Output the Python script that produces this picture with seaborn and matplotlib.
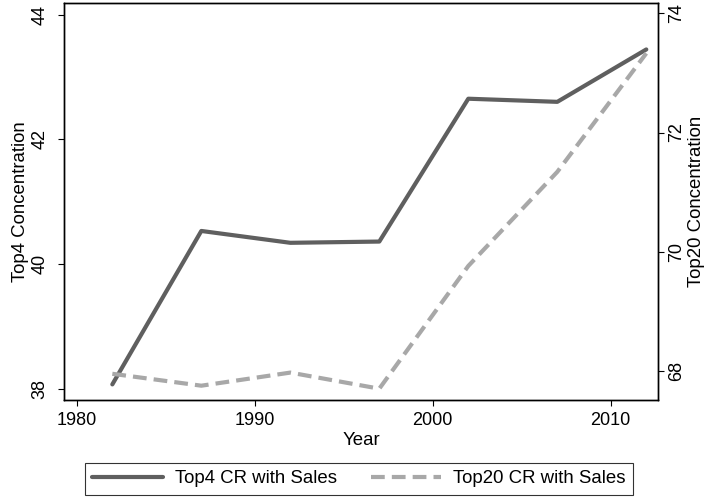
import matplotlib
matplotlib.use("Agg")
import matplotlib.pyplot as plt
import seaborn as sns
import pandas as pd
from matplotlib.lines import Line2D

# data
years = [1982, 1987, 1992, 1997, 2002, 2007, 2012]
top4_cr = [38.07, 40.53, 40.34, 40.36, 42.65, 42.60, 43.44]
top20_cr = [67.95, 67.75, 67.97, 67.70, 69.76, 71.34, 73.33]

x_ticks = [1980, 1990, 2000, 2010]
left_ticks = [38, 40, 42, 44]
right_ticks = [68, 70, 72, 74]

df = pd.DataFrame({"year": years, "top4": top4_cr, "top20": top20_cr})

sns.set_style("white")
plt.rcParams["font.family"] = ["Liberation Sans", "DejaVu Sans"]
plt.rcParams["text.color"] = "black"
plt.rcParams["axes.labelcolor"] = "black"
plt.rcParams["xtick.color"] = "black"
plt.rcParams["ytick.color"] = "black"

dark = "#5f5f5f"
light = "#a8a8a8"
tick_fs = 13
label_fs = 13.4

fig = plt.figure(figsize=(7.04, 4.98), dpi=100)
ax = fig.add_axes([0.0913, 0.1968, 0.8429, 0.7966])
ax2 = ax.twinx()

sns.lineplot(data=df, x="year", y="top4", ax=ax, color=dark, linewidth=3.0)
sns.lineplot(data=df, x="year", y="top20", ax=ax2, color=light, linewidth=3.0)
ax2.lines[0].set_dashes((3.3, 1.7))

ax.set_xlim(1979.3, 2012.64)
ax.set_ylim(37.82, 44.18)
ax2.set_ylim(67.51, 74.17)

ax.set_xticks(x_ticks)
ax.set_yticks(left_ticks)
ax2.set_yticks(right_ticks)

ax.set_xlabel("Year", fontsize=label_fs, labelpad=2)
ax.set_ylabel("Top4 Concentration", fontsize=label_fs, labelpad=2)
ax2.set_ylabel("Top20 Concentration", fontsize=label_fs, labelpad=2)

ax.tick_params(axis="x", direction="out", length=4.5, width=0.8, pad=4.5,
               labelsize=tick_fs, bottom=True)
ax.tick_params(axis="y", direction="out", length=4.5, width=0.8, pad=7,
               labelsize=tick_fs, left=True)
ax2.tick_params(axis="y", direction="out", length=4.5, width=0.8, pad=3,
                labelsize=tick_fs, right=True)

for t in ax.get_yticklabels() + ax2.get_yticklabels():
    t.set_rotation(90)
    t.set_va("center")

for a in (ax, ax2):
    for s in a.spines.values():
        s.set_visible(True)
        s.set_color("black")
        s.set_linewidth(1.0)

handles = [
    Line2D([], [], color=dark, linewidth=3.0),
    Line2D([], [], color=light, linewidth=3.0, dashes=(3.3, 1.7)),
]
leg = fig.legend(handles, ["Top4 CR with Sales", "Top20 CR with Sales"],
                 loc="center", bbox_to_anchor=(0.51, 0.039), ncol=2,
                 frameon=True, fancybox=False, fontsize=label_fs,
                 handlelength=3.8, columnspacing=1.8, handletextpad=0.65,
                 borderpad=0.4, borderaxespad=0)
leg.get_frame().set_edgecolor("black")
leg.get_frame().set_linewidth(0.8)

fig.savefig("out.png", dpi=100)
